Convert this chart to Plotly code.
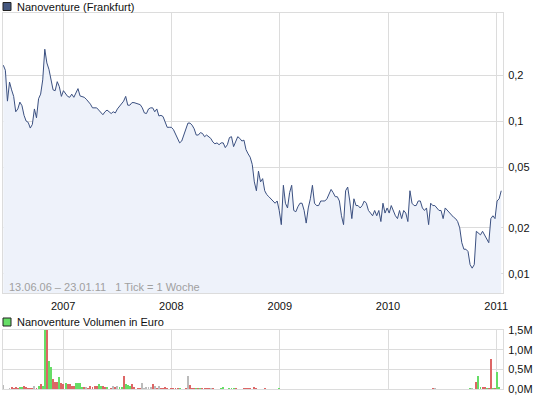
import pandas as pd
import plotly.graph_objects as go

# ---------------- data ----------------
dates = pd.date_range("2006-06-13", periods=241, freq="7D")

price = [
    0.232, 0.215, 0.135, 0.18, 0.16, 0.145, 0.115, 0.12, 0.133, 0.126,
    0.109, 0.1, 0.098, 0.09, 0.095, 0.12, 0.105, 0.14, 0.15, 0.186,
    0.295, 0.24, 0.218, 0.181, 0.16, 0.158, 0.181, 0.168, 0.145, 0.158,
    0.15, 0.145, 0.143, 0.15, 0.143, 0.153, 0.163, 0.146, 0.144, 0.143,
    0.139, 0.134, 0.129, 0.122, 0.122, 0.122, 0.118, 0.113, 0.11, 0.115,
    0.118, 0.115, 0.112, 0.115, 0.113, 0.12, 0.125, 0.13, 0.135, 0.145,
    0.127, 0.127, 0.132, 0.132, 0.131, 0.13, 0.128, 0.122, 0.113, 0.112,
    0.12, 0.122, 0.122, 0.115, 0.12, 0.108, 0.109, 0.107, 0.099, 0.091,
    0.091, 0.091, 0.088, 0.082, 0.077, 0.072, 0.074, 0.081, 0.088, 0.097,
    0.097, 0.094, 0.089, 0.081, 0.081, 0.084, 0.083, 0.079, 0.081, 0.079,
    0.077, 0.073, 0.071, 0.072, 0.07, 0.072, 0.072, 0.067, 0.07, 0.078,
    0.079, 0.068, 0.074, 0.079, 0.077, 0.074, 0.075, 0.065, 0.061, 0.058,
    0.052, 0.04, 0.035, 0.047, 0.04, 0.042, 0.035, 0.033, 0.032, 0.031,
    0.030, 0.029, 0.03, 0.026, 0.021, 0.038, 0.029, 0.027, 0.034, 0.038,
    0.026, 0.0255, 0.0275, 0.029, 0.029, 0.026, 0.0215, 0.027, 0.031, 0.038,
    0.029, 0.028, 0.028, 0.030, 0.030, 0.030, 0.031, 0.033, 0.0357, 0.034,
    0.032, 0.032, 0.030, 0.024, 0.021, 0.035, 0.037, 0.03, 0.023, 0.031,
    0.028, 0.028, 0.027, 0.028, 0.030, 0.029, 0.026, 0.025, 0.024, 0.026,
    0.024, 0.026, 0.022, 0.029, 0.025, 0.027, 0.025, 0.028, 0.026, 0.024,
    0.023, 0.026, 0.023, 0.026, 0.025, 0.022, 0.035, 0.029, 0.028, 0.028,
    0.03, 0.030, 0.027, 0.026, 0.027, 0.021, 0.029, 0.028, 0.028, 0.027,
    0.026, 0.026, 0.023, 0.027, 0.026, 0.025, 0.024, 0.0235, 0.023, 0.022,
    0.020, 0.016, 0.0145, 0.0145, 0.014, 0.0115, 0.0109, 0.0115, 0.019, 0.0186,
    0.018, 0.019, 0.018, 0.017, 0.016, 0.023, 0.024, 0.023, 0.030, 0.031, 0.035,
]

# weekly volume (Euro): week index, value, direction (u=up, d=down, n=unchanged)
vol_week = [0, 3, 4, 5, 6, 7, 8, 9, 10, 11, 12, 13, 14, 15, 16, 17, 18, 19,
            20, 21, 22, 23, 24, 25, 26, 27, 28, 29, 30, 31, 32, 33, 34, 35, 36,
            37, 38, 39, 40, 41, 42, 43, 44, 45, 46, 47, 48, 49, 50, 52, 53, 54,
            55, 56, 57, 58, 59, 60, 61, 62, 63, 65, 66, 67, 68, 69, 70, 71, 72,
            73, 74, 75, 76, 77, 78, 79, 81, 82, 83, 84, 85, 88, 89, 90, 91, 92,
            93, 94, 95, 96, 97, 98, 99, 100, 101, 105, 106, 109, 110, 111, 112,
            116, 117, 118, 119, 121, 122, 126, 133, 207, 208, 225, 226, 228,
            229, 230, 231, 232, 233, 234, 235, 236, 237, 238, 239, 240]
vol_value = [100e3, 20e3, 50e3, 25e3, 50e3, 25e3, 50e3, 50e3, 80e3, 35e3, 25e3,
             25e3, 25e3, 80e3, 25e3, 80e3, 130e3, 80e3,
             2600e3, 2600e3, 710e3, 560e3, 250e3, 180e3, 180e3, 300e3, 150e3,
             130e3, 150e3, 130e3, 130e3, 80e3, 80e3, 150e3, 150e3,
             150e3, 50e3, 50e3, 50e3, 25e3, 80e3, 50e3, 80e3, 80e3, 130e3, 80e3,
             80e3, 50e3, 50e3, 25e3, 80e3, 50e3,
             80e3, 50e3, 50e3, 330e3, 130e3, 100e3, 80e3, 130e3, 50e3, 25e3,
             25e3, 150e3, 25e3, 50e3, 50e3, 50e3, 130e3,
             80e3, 25e3, 80e3, 25e3, 25e3, 50e3, 25e3, 25e3, 25e3, 25e3, 25e3,
             25e3, 25e3, 330e3, 100e3, 25e3, 25e3,
             25e3, 25e3, 25e3, 25e3, 25e3, 25e3, 25e3, 25e3, 25e3, 25e3, 50e3,
             25e3, 25e3, 25e3, 25e3,
             25e3, 25e3, 25e3, 25e3, 50e3, 25e3, 25e3, 25e3, 25e3, 25e3, 25e3,
             25e3, 180e3,
             330e3, 50e3, 50e3, 50e3, 25e3, 25e3, 760e3, 25e3, 25e3, 430e3,
             50e3, 100e3]
vol_dir = list("nndddduudddddnduduud"
               "uuddduddudddduuuudn"
               "ddddduuddudndnuuduu"
               "uddddnnnnndndnddd"
               "dddddudndddudu"
               "ddddndu"
               "uuuuddddddddu"
               "dnunduuddudduduu")

xticks_dates = ["2007-01-01", "2008-01-01", "2009-01-01", "2010-01-01", "2011-01-01"]
xticks_text = ["2007", "2008", "2009", "2010", "2011"]
price_ticks = [0.01, 0.02, 0.05, 0.1, 0.2]
price_ticktext = ["0,01", "0,02", "0,05", "0,1", "0,2"]
vol_ticks = [0, 0.5e6, 1.0e6, 1.5e6]
vol_ticktext = ["0,0M", "0,5M", "1,0M", "1,5M"]

# ---------------- figure ----------------
W, H = 545, 398
FONT = "Liberation Sans"
GRID = "#dcdcdc"
LINE = "#3b5080"
FILL = "#eef2fa"
DIRCOL = {"u": "#66dd66", "d": "#dd6666", "n": "#bbbbbb"}

n = min(len(vol_week), len(vol_value), len(vol_dir))
vol_x = [dates[vol_week[k]] for k in range(n)]
vol_y = vol_value[:n]
vol_c = [DIRCOL[d] for d in vol_dir[:n]]

fig = go.Figure()
fig.add_trace(go.Scatter(x=dates, y=[1e-4] * len(dates), mode="lines",
                         line=dict(width=0), hoverinfo="skip", showlegend=False,
                         xaxis="x", yaxis="y"))
fig.add_trace(go.Scatter(x=dates, y=price, mode="lines", fill="tonexty",
                         fillcolor=FILL, line=dict(color=LINE, width=1),
                         showlegend=False, xaxis="x", yaxis="y"))
fig.add_trace(go.Bar(x=vol_x, y=vol_y, marker=dict(color=vol_c, line=dict(width=0)),
                     width=3.2 * 86400000, showlegend=False,
                     xaxis="x2", yaxis="y2"))

xdom = [3 / W, 503 / W]
xrange = ["2006-06-12", "2011-01-24"]
axis_common = dict(showgrid=True, gridcolor=GRID, gridwidth=1, showline=True,
                   linecolor=GRID, linewidth=1, mirror=True, zeroline=False,
                   automargin=False,
                   ticks="", tickfont=dict(family=FONT, size=11, color="#111"))

fig.update_layout(
    width=W, height=H, autosize=False, margin=dict(l=0, r=0, t=0, b=0, pad=0),
    paper_bgcolor="white", plot_bgcolor="rgba(0,0,0,0)",
    bargap=0,
    xaxis=dict(domain=xdom, range=xrange, type="date", tickvals=xticks_dates,
               ticktext=xticks_text, anchor="y", ticklabelstandoff=3,
               **axis_common),
    xaxis2=dict(domain=xdom, range=xrange, type="date", tickvals=xticks_dates,
                showticklabels=False, anchor="y2", matches="x", **axis_common),
    yaxis=dict(domain=[1 - 293 / H, 1 - 13.3 / H], type="log",
               range=[-2.125, -0.295], side="right", tickvals=price_ticks,
               ticktext=price_ticktext, anchor="x", ticklabelstandoff=2,
               **axis_common),
    yaxis2=dict(domain=[1 - 389 / H, 1 - 330 / H], range=[0, 1.5e6],
                side="right", tickvals=vol_ticks, ticktext=vol_ticktext,
                anchor="x2", ticklabelstandoff=2, **axis_common),
    shapes=[
        dict(type="rect", xref="paper", yref="paper",
             x0=3 / W, x1=11 / W, y0=1 - 10.5 / H, y1=1 - 2.5 / H,
             fillcolor="#44577f", line=dict(color="#222", width=1)),
        dict(type="rect", xref="paper", yref="paper",
             x0=3 / W, x1=11 / W, y0=1 - 326 / H, y1=1 - 318 / H,
             fillcolor="#66dd66", line=dict(color="#222", width=1)),
    ],
    annotations=[
        dict(text="Nanoventure (Frankfurt)", xref="paper", yref="paper",
             x=15 / W, y=1 - 7 / H, xanchor="left", yanchor="middle",
             showarrow=False, font=dict(family=FONT, size=11, color="#111")),
        dict(text="Nanoventure Volumen in Euro", xref="paper", yref="paper",
             x=15 / W, y=1 - 322 / H, xanchor="left", yanchor="middle",
             showarrow=False, font=dict(family=FONT, size=11, color="#111")),
        dict(text="13.06.06 – 23.01.11   1 Tick = 1 Woche", xref="paper",
             yref="paper", x=7 / W, y=1 - 287 / H, xanchor="left",
             yanchor="middle", showarrow=False,
             font=dict(family=FONT, size=11, color="#a0a0a0")),
    ],
)

fig.write_html("out.html",
               config={"displayModeBar": False, "responsive": False},
               post_script="document.body.style.margin='0';"
                           "document.body.style.overflow='hidden';")
